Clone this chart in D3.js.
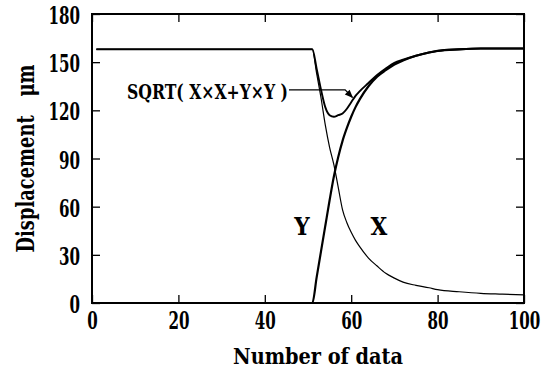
<!DOCTYPE html>
<html>
<head>
<meta charset="utf-8">
<script src="https://cdn.jsdelivr.net/npm/d3@7"></script>
<style>
  body { margin: 0; background: #fff; }
  svg text { font-family: "DejaVu Serif Condensed", "DejaVu Serif", "Liberation Serif", serif; font-stretch: condensed; font-weight: bold; fill: #000; }
</style>
</head>
<body>
<script>
// data
var xs   = [1, 51, 52, 53, 54, 55, 56, 57, 58, 59, 60, 61, 62, 64, 66, 68, 70, 72, 75, 78, 80, 85, 90, 95, 100];
var serX = [158, 158, 143, 128, 111, 97, 86, 72, 58, 50, 44, 39, 35, 28, 23, 18.5, 15.5, 13, 11, 9.5, 8.3, 7, 6, 5.5, 5];
var serY = [0, 0, 16, 32, 48, 64, 79, 91, 101, 109, 116, 122, 127, 135, 141, 145, 148.5, 151, 154, 156, 157, 158, 158.5, 158.5, 158.5];
var serS = [158, 158, 146, 133, 122, 117, 116, 117, 118, 121, 125, 129, 132, 137, 142, 146, 149.5, 151.5, 154, 156, 157, 158, 158.5, 158.5, 158.5];
var xTicks = [0, 20, 40, 60, 80, 100];
var yTicks = [0, 30, 60, 90, 120, 150, 180];

var W = 551, H = 374;
var m = {top: 14, right: 27, bottom: 71, left: 92};
var w = W - m.left - m.right, h = H - m.top - m.bottom;

var svg = d3.select("body").append("svg")
  .attr("width", W).attr("height", H);
var g = svg.append("g").attr("transform", "translate(" + m.left + "," + m.top + ")");

var x = d3.scaleLinear().domain([0, 100]).range([0, w]);
var y = d3.scaleLinear().domain([0, 180]).range([h, 0]);

// frame + inward ticks on all four sides
function tickStyle(a) {
  a.select(".domain").remove();
  a.selectAll("line").attr("stroke", "#000").attr("stroke-width", 1.3);
}
g.append("g").attr("transform", "translate(0," + h + ")")
  .call(d3.axisBottom(x).tickValues(xTicks).tickSize(-8).tickPadding(13).tickFormat(d3.format("d")))
  .call(tickStyle)
  .selectAll("text").attr("font-size", 24).attr("dy", "0.55em")
  .attr("textLength", function(d) { return String(d).length * 10.5; })
  .attr("lengthAdjust", "spacingAndGlyphs");
g.append("g")
  .call(d3.axisTop(x).tickValues(xTicks).tickSize(-8).tickFormat(""))
  .call(tickStyle);
g.append("g")
  .call(d3.axisLeft(y).tickValues(yTicks).tickSize(-8).tickPadding(12).tickFormat(d3.format("d")))
  .call(tickStyle)
  .selectAll("text").attr("font-size", 24).attr("dy", "0.4em")
  .attr("textLength", function(d) { return String(d).length * 10.5; })
  .attr("lengthAdjust", "spacingAndGlyphs");
g.append("g").attr("transform", "translate(" + w + ",0)")
  .call(d3.axisRight(y).tickValues(yTicks).tickSize(-8).tickFormat(""))
  .call(tickStyle);

g.append("rect").attr("width", w).attr("height", h)
  .attr("fill", "none").attr("stroke", "#000").attr("stroke-width", 2);

// curves
var line = function(vals) {
  return d3.line()
    .x(function(d, i) { return x(xs[i]); })
    .y(function(d) { return y(d); })
    .curve(d3.curveMonotoneX)(vals);
};
g.append("path").attr("d", line(serX)).attr("fill", "none").attr("stroke", "#000").attr("stroke-width", 1.2);
g.append("path").attr("d", line(serS)).attr("fill", "none").attr("stroke", "#000").attr("stroke-width", 1.9);
g.append("path").attr("d", line(serY)).attr("fill", "none").attr("stroke", "#000").attr("stroke-width", 2.2);

// labels
g.append("text").attr("x", x(48.6)).attr("y", y(48)).attr("dy", "0.38em")
  .attr("text-anchor", "middle").attr("font-size", 24).text("Y");
g.append("text").attr("x", x(66.4)).attr("y", y(48)).attr("dy", "0.38em")
  .attr("text-anchor", "middle").attr("font-size", 24).text("X");

g.append("text").attr("x", x(8.1)).attr("y", y(132)).attr("dy", "0.38em")
  .attr("font-size", 21).attr("textLength", 161).attr("lengthAdjust", "spacingAndGlyphs")
  .text("SQRT( X\u00d7X+Y\u00d7Y )");

// arrow
svg.append("defs").append("marker").attr("id", "ah")
  .attr("viewBox", "0 0 10 10").attr("refX", 9).attr("refY", 5)
  .attr("markerWidth", 9).attr("markerHeight", 7).attr("orient", "auto")
  .append("path").attr("d", "M0,1 L10,5 L0,9 Z").attr("fill", "#000");
var arrowPts = [[45.6, 132.7], [58.6, 132.7], [60.3, 128]];
g.append("path")
  .attr("d", d3.line().x(function(d) { return x(d[0]); }).y(function(d) { return y(d[1]); })(arrowPts))
  .attr("fill", "none").attr("stroke", "#000").attr("stroke-width", 1.2)
  .attr("marker-end", "url(#ah)");

// axis titles
svg.append("text").attr("x", m.left + w / 2 + 10).attr("y", 364)
  .attr("text-anchor", "middle").attr("font-size", 23)
  .attr("textLength", 170).attr("lengthAdjust", "spacingAndGlyphs")
  .text("Number of data");
svg.append("text").attr("transform", "translate(34," + (m.top + h / 2) + ") rotate(-90)")
  .attr("text-anchor", "middle").attr("font-size", 24)
  .attr("textLength", 188).attr("lengthAdjust", "spacingAndGlyphs")
  .attr("xml:space", "preserve")
  .text("Displacement   \u03bcm");
</script>
</body>
</html>
